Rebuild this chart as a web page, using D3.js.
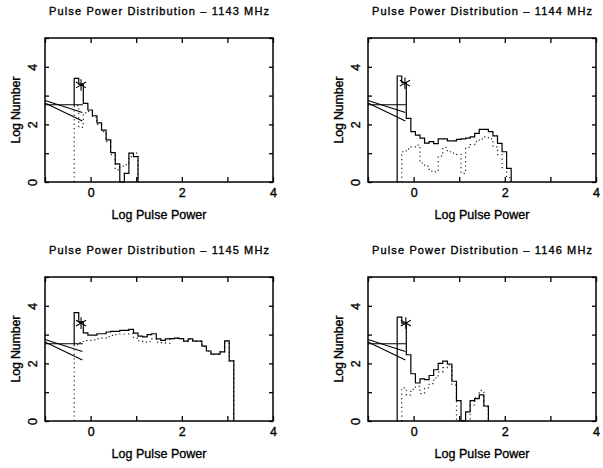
<!DOCTYPE html>
<html lang="en">
<head>
<meta charset="UTF-8">
<title>Pulse Power Distribution</title>
<script src="https://cdnjs.cloudflare.com/ajax/libs/d3/7.8.5/d3.min.js"></script>
<style>
    body { margin: 0; background: #fff; }
    svg { display: block; font-family: 'Liberation Sans', Arial, sans-serif; }
    .frame { fill: none; stroke: #000; stroke-width: 1.5; }
    .tick line { stroke: #000; stroke-width: 1.3; }
    .solid { fill: none; stroke: #000; stroke-width: 1.2; }
    .dotted { fill: none; stroke: #222; stroke-width: 1.2; stroke-dasharray: 1.2 3.2; }
    .fit { stroke: #000; stroke-width: 1.1; }
    .star { fill: none; stroke: #000; stroke-width: 1.1; }
    .lbl { fill: #000; stroke: #000; stroke-width: 0.35; }
</style>
</head>
<body>
<svg id="chart" width="603" height="468"></svg>
<script>
// ---- data ----
const freqs = ["1143", "1144", "1145", "1146"];
const binStart = -0.36;
const binWidth = 0.1;

const solid1143 = [3.6, 3.4, 2.73, 2.5, 2.3, 2.05, 1.8, 1.46, 1.02, 0.63, 0, 0.3, 1.0, 0.88];
const dotted1143 = [2.65, 1.9, 2.4, 2.45, 2.25, 2.0, 1.75, 1.4, 0.95, 0.42, 0.55, 0.6, 0.88, 1.0];

const solid1144 = [3.68, 3.45, 2.21, 1.75, 1.63, 1.52, 1.35, 1.4, 1.33, 1.5, 1.5, 1.43, 1.43, 1.48,
                   1.5, 1.52, 1.57, 1.69, 1.83, 1.83, 1.75, 1.6, 1.34, 1.05, 0.47];
const dotted1144 = [0, 1.05, 1.15, 1.22, 1.28, 0.66, 0.55, 0.38, 0.35, 0.9, 1.2, 1.05, 1.0, 0.96,
                    0.3, 1.2, 1.3, 1.4, 1.5, 1.57, 1.5, 1.22, 0.95, 0.5, 0.15];

const solid1145 = [3.76, 3.44, 3.06, 2.98, 2.98, 3.03, 3.03, 3.09, 3.11, 3.11, 3.15, 3.15, 3.18,
                   3.05, 2.95, 2.92, 3.0, 3.03, 2.85, 2.8, 2.85, 2.86, 2.88, 2.86, 2.77, 2.85,
                   2.77, 2.77, 2.6, 2.43, 2.32, 2.32, 2.4, 2.78, 2.09];
const dotted1145 = [2.65, 2.72, 2.79, 2.8, 2.82, 2.86, 2.88, 2.93, 2.97, 3.0, 3.02, 3.02, 3.03,
                    2.88, 2.78, 2.74, 2.76, 2.85, 2.74, 2.72, 2.7, 2.86, 2.88, 2.86, 2.77, 2.85,
                    2.77, 2.77, 2.6, 2.43, 2.32, 2.32, 2.4, 2.78, 2.09];

const solid1146 = [3.61, 3.4, 2.3, 1.64, 1.32, 1.46, 1.44, 1.58, 1.78, 2.0, 2.08, 1.98, 1.38, 0.71,
                   0, 0.32, 0.71, 0.78, 0.91, 0.52];
const dotted1146 = [0, 1.15, 0.9, 1.1, 1.2, 0.95, 1.15, 1.3, 1.5, 1.7, 1.85, 1.95, 1.25, 0,
                    0, 0, 0.55, 0.8, 1.06, 0.5];

const solidSeries = [solid1143, solid1144, solid1145, solid1146];
const dottedSeries = [dotted1143, dotted1144, dotted1145, dotted1146];
const solidBase = [2.65, 0, 2.65, 0];

const starX = [-0.21, -0.19, -0.21, -0.17];
const starY = [3.37, 3.43, 3.4, 3.4];

// fit lines: [x1, y1, x2, y2]
const fitLines = [
    [-1, 2.83, -0.18, 2.41],
    [-1, 2.74, -0.18, 2.12],
    [-1, 2.68, -0.17, 2.68]
];

const xTicks = [-1, 0, 1, 2, 3, 4];
const xTickLabels = [0, 2, 4];
const yTicks = [0, 1, 2, 3, 4, 5];
const yTickLabels = [0, 2, 4];

// ---- layout ----
const svg = d3.select('#chart');
const plotW = 228, plotH = 144;
const origins = [[45, 38], [368, 38], [45, 277], [368, 277]];

function stepPoints(values, base) {
    const pts = [[binStart, base]];
    values.forEach((v, i) => {
        pts.push([binStart + i * binWidth, v]);
        pts.push([binStart + (i + 1) * binWidth, v]);
    });
    pts.push([binStart + values.length * binWidth, 0]);
    return pts;
}

freqs.forEach((f, p) => {
    const [ox, oy] = origins[p];
    const g = svg.append('g').attr('transform', `translate(${ox},${oy})`);
    const x = d3.scaleLinear().domain([-1, 4]).range([0, plotW]);
    const y = d3.scaleLinear().domain([0, 5]).range([plotH, 0]);
    const line = d3.line().x(d => x(d[0])).y(d => y(d[1]));

    // title and axis labels
    g.append('text').attr('class', 'lbl')
        .attr('x', plotW / 2).attr('y', -23)
        .attr('text-anchor', 'middle')
        .attr('font-size', 11)
        .attr('textLength', 220).attr('lengthAdjust', 'spacing')
        .text(`Pulse Power Distribution \u2013 ${f} MHz`);

    g.append('text').attr('class', 'lbl')
        .attr('x', plotW / 2).attr('y', plotH + 37)
        .attr('text-anchor', 'middle')
        .attr('font-size', 12.5)
        .attr('textLength', 95).attr('lengthAdjust', 'spacing')
        .text('Log Pulse Power');

    g.append('text').attr('class', 'lbl')
        .attr('transform', `translate(-25,${plotH / 2}) rotate(-90)`)
        .attr('text-anchor', 'middle')
        .attr('font-size', 12.5)
        .attr('textLength', 67).attr('lengthAdjust', 'spacing')
        .text('Log Number');

    // axes, ticks inward
    const fmtX = d => xTickLabels.includes(d) ? d : '';
    const fmtY = d => yTickLabels.includes(d) ? d : '';

    g.append('g').attr('transform', `translate(0,${plotH})`)
        .call(d3.axisBottom(x).tickValues(xTicks).tickSize(-5).tickPadding(6.5).tickFormat(fmtX));
    g.append('g')
        .call(d3.axisTop(x).tickValues(xTicks).tickSize(-5).tickFormat(''));
    const left = g.append('g')
        .call(d3.axisLeft(y).tickValues(yTicks).tickSize(-4).tickFormat(fmtY));
    g.append('g').attr('transform', `translate(${plotW},0)`)
        .call(d3.axisRight(y).tickValues(yTicks).tickSize(-4).tickFormat(''));

    g.selectAll('.domain').remove();
    g.selectAll('.tick text')
        .attr('class', 'lbl')
        .attr('font-size', 12.5)
        .attr('font-family', "'Liberation Sans', Arial, sans-serif");
    left.selectAll('.tick text')
        .attr('x', null).attr('dy', null)
        .attr('text-anchor', 'middle')
        .attr('transform', 'translate(-8.5,0) rotate(-90)');

    // histograms
    g.append('path').attr('class', 'dotted')
        .attr('d', line(stepPoints(dottedSeries[p], 0)));
    g.append('path').attr('class', 'solid')
        .attr('d', line(stepPoints(solidSeries[p], solidBase[p])));

    // fit lines
    g.selectAll('.fit').data(fitLines).enter().append('line')
        .attr('class', 'fit')
        .attr('x1', d => x(d[0])).attr('y1', d => y(d[1]))
        .attr('x2', d => x(d[2])).attr('y2', d => y(d[3]));

    // star marker
    g.append('path').attr('class', 'star')
        .attr('transform', `translate(${x(starX[p])},${y(starY[p])})`)
        .attr('d', d3.symbol(d3.symbolAsterisk, 95)());

    g.append('rect').attr('class', 'frame')
        .attr('width', plotW).attr('height', plotH);
});
</script>
</body>
</html>
